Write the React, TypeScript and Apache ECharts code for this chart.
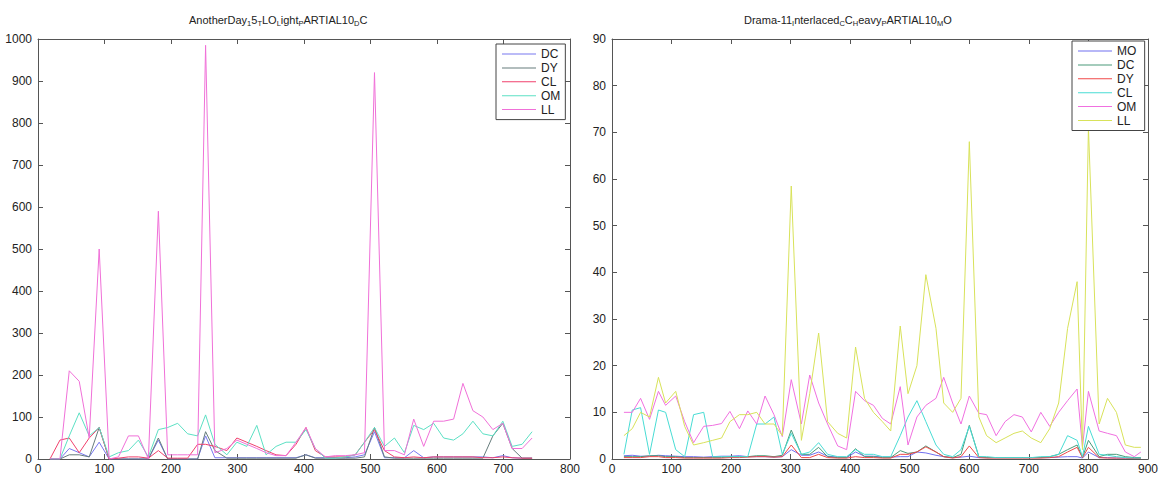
import React, { useEffect, useRef } from "react";
import * as echarts from "echarts";

// ---------- Left chart data ----------
const leftX = [18, 33, 47, 62, 77, 92, 107, 121, 136, 151, 166, 181, 195, 210, 225, 240, 252, 266, 284, 299, 314, 329, 343, 358, 373, 388, 403, 417, 432, 447, 462, 477, 491, 506, 521, 536, 551, 565, 580, 595, 610, 625, 639, 654, 669, 684, 699, 713, 728, 743];
const leftDC = [0, 0, 25, 15, 5, 40, 0, 0, 0, 0, 0, 45, 0, 0, 0, 0, 55, 3, 3, 3, 3, 3, 3, 3, 3, 3, 10, 3, 3, 3, 3, 5, 10, 65, 3, 3, 3, 20, 3, 5, 5, 5, 5, 5, 5, 3, 8, 3, 2, 2];
const leftDY = [0, 0, 10, 10, 5, 75, 0, 0, 0, 0, 0, 50, 0, 0, 0, 0, 65, 20, 2, 2, 2, 2, 2, 2, 2, 2, 10, 2, 2, 2, 2, 2, 5, 75, 5, 2, 2, 2, 2, 2, 2, 2, 2, 2, 2, 55, 85, 25, 2, 2];
const leftCL = [0, 45, 50, 15, 50, 75, 0, 2, 5, 5, 2, 20, 2, 2, 2, 35, 35, 30, 20, 50, 40, 30, 20, 10, 8, 35, 75, 20, 5, 5, 5, 10, 40, 70, 20, 5, 3, 5, 3, 5, 5, 5, 5, 5, 3, 3, 5, 3, 2, 2];
const leftOM = [0, 0, 55, 110, 55, 75, 5, 15, 20, 45, 5, 70, 75, 85, 60, 55, 105, 35, 10, 40, 30, 80, 10, 30, 40, 40, 70, 25, 2, 2, 5, 10, 40, 75, 30, 50, 15, 80, 70, 85, 50, 45, 60, 90, 60, 55, 90, 30, 35, 65];
const leftLL = [0, 0, 210, 185, 50, 500, 0, 5, 55, 55, 0, 590, 10, 10, 10, 10, 985, 15, 25, 45, 35, 25, 15, 8, 8, 40, 75, 25, 5, 8, 8, 10, 15, 920, 20, 20, 10, 95, 30, 90, 90, 95, 180, 115, 100, 70, 85, 25, 25, 50];
const leftNames = ["DC", "DY", "CL", "OM", "LL"];
const leftColors = ["#7878f0", "#667c7c", "#f0406c", "#5ce0c4", "#f070d8"];
const leftTicksX = { min: 0, max: 800, interval: 100 };
const leftTicksY = { min: 0, max: 1000, interval: 100 };

// ---------- Right chart data ----------
const rightX = [20, 34, 48, 63, 78, 90, 107, 122, 137, 154, 169, 184, 198, 214, 228, 243, 257, 272, 286, 301, 318, 332, 347, 362, 379, 394, 409, 424, 439, 454, 468, 484, 497, 512, 527, 544, 557, 572, 586, 600, 616, 629, 645, 660, 675, 689, 704, 720, 735, 750, 765, 781, 790, 800, 818, 832, 847, 862, 877, 888];
const rightMO = [0.7, 0.8, 0.6, 0.6, 0.8, 0.7, 0.6, 0.5, 0.5, 0.4, 0.5, 0.6, 0.6, 0.7, 0.5, 0.5, 0.5, 0.4, 0.5, 2, 0.8, 0.8, 1.5, 0.6, 0.4, 0.3, 1.5, 0.6, 0.6, 0.4, 0.4, 0.5, 0.5, 1.5, 1.3, 0.8, 0.5, 0.3, 0.4, 0.6, 0.3, 0.3, 0.3, 0.3, 0.3, 0.3, 0.3, 0.3, 0.3, 0.4, 0.5, 0.5, 0.2, 1.5, 0.3, 0.3, 0.2, 0.2, 0.1, 0.1];
const rightDC = [0.5, 0.5, 0.5, 0.7, 0.7, 0.5, 0.5, 0.3, 0.3, 0.3, 0.3, 0.3, 0.5, 0.5, 0.5, 0.7, 0.7, 0.5, 0.8, 6.2, 1, 1, 2.5, 0.5, 0.3, 0.3, 2.2, 0.5, 0.5, 0.3, 0.3, 1.8, 1.2, 1.5, 2.8, 1.5, 0.5, 0.3, 1, 7.2, 0.5, 0.3, 0.3, 0.3, 0.3, 0.3, 0.3, 0.3, 0.5, 1, 2, 3, 0.3, 4, 0.5, 1, 1, 0.5, 0.3, 0.3];
const rightDY = [0.3, 0.3, 0.3, 0.5, 0.5, 0.3, 0.3, 0.2, 0.2, 0.2, 0.2, 0.2, 0.3, 0.3, 0.4, 0.5, 0.5, 0.4, 0.5, 3, 0.3, 0.3, 1, 0.3, 0.2, 0.2, 0.5, 0.3, 0.3, 0.2, 0.2, 1, 1, 1.5, 2.6, 1.5, 0.5, 0.2, 0.5, 2.8, 0.3, 0.2, 0.2, 0.2, 0.2, 0.2, 0.2, 0.2, 0.3, 0.5, 1.5, 2.5, 0.3, 2.5, 0.3, 0.2, 0.2, 0.2, 0.1, 0.1];
const rightCL = [1, 10.5, 11, 1, 10.5, 10, 2, 0.5, 9.5, 10, 0.5, 0.5, 0.5, 0.5, 0.5, 7.5, 7.5, 9, 1, 5.5, 1, 1.5, 3.5, 1, 0.5, 0.5, 2, 1, 1, 0.5, 0.5, 5, 9, 12.5, 8, 3, 1, 0.5, 2, 7, 0.5, 0.5, 0.3, 0.3, 0.3, 0.3, 0.3, 0.5, 0.5, 1, 5, 4, 0.5, 7, 1, 0.8, 0.5, 0.3, 0.2, 0.2];
const rightOM = [10, 10, 13, 8.5, 14.5, 11.5, 13.5, 8, 3.5, 7, 7.2, 7.6, 10.2, 6.5, 10.3, 7.5, 13.5, 9.5, 4.8, 17, 7.5, 18, 12, 7.5, 2.8, 2, 14.5, 12.5, 11.5, 8.7, 7.5, 15.5, 3, 9, 11.5, 13, 17.5, 12, 7.5, 13.5, 9.8, 9.5, 5, 8, 9.5, 9, 5.8, 10, 7, 10, 12.5, 15, 2.5, 14.5, 6, 5.5, 5, 1.5, 0.5, 1.5];
const rightLL = [5, 6.5, 10, 9, 17.5, 12, 14.5, 7, 3, 3.5, 4, 4.5, 8, 9.5, 9.5, 10, 7.5, 7.5, 5, 58.5, 4, 14, 27, 8, 5.5, 4.5, 24, 13, 10, 8, 6, 28.5, 14, 20, 39.5, 28, 12, 10, 13, 68, 9, 5, 3.5, 4.5, 5.5, 6, 4.5, 3.5, 6.5, 12, 28, 38, 2, 71, 7.5, 13, 10, 3, 2.5, 2.5];
const rightNames = ["MO", "DC", "DY", "CL", "OM", "LL"];
const rightColors = ["#7070f0", "#4a9a7a", "#f04848", "#48dcd4", "#f070e0", "#d8e25a"];
const rightTicksX = { min: 0, max: 900, interval: 100 };
const rightTicksY = { min: 0, max: 90, interval: 10 };

const FONT = "Liberation Sans, Arial, Helvetica, sans-serif";
const AXIS_COLOR = "#555";

function pairs(xs: number[], ys: number[]) {
  return xs.map((x, i) => [x, ys[i]]);
}

function makeAxis(kind: "x" | "y", grid: number, pos: string, ticks: any, labels: boolean) {
  return {
    type: "value",
    gridIndex: grid,
    position: pos,
    min: ticks.min,
    max: ticks.max,
    interval: ticks.interval,
    axisLine: { show: true, onZero: false, lineStyle: { color: AXIS_COLOR, width: 1 } },
    axisTick: { show: true, inside: true, length: 5, lineStyle: { color: AXIS_COLOR } },
    axisLabel: {
      show: labels,
      color: "#222",
      fontSize: 12,
      fontFamily: FONT,
      margin: kind === "x" ? 4 : 6,
      formatter: (v: number) => String(v),
    },
    splitLine: { show: false },
  };
}

export default function App() {
  const ref = useRef<HTMLDivElement>(null);
  useEffect(() => {
    if (!ref.current) return;
    const chart = echarts.init(ref.current, undefined, { renderer: "svg" });
    const leftSets = [leftDC, leftDY, leftCL, leftOM, leftLL];
    const rightSets = [rightMO, rightDC, rightDY, rightCL, rightOM, rightLL];
    const series: any[] = [];
    leftSets.forEach((ys, i) => {
      series.push({
        type: "line",
        name: leftNames[i],
        xAxisIndex: 0,
        yAxisIndex: 0,
        symbol: "none",
        data: pairs(leftX, ys),
        lineStyle: { width: 1, color: leftColors[i] },
        itemStyle: { color: leftColors[i] },
      });
    });
    rightSets.forEach((ys, i) => {
      series.push({
        type: "line",
        name: rightNames[i] + " ",
        xAxisIndex: 2,
        yAxisIndex: 2,
        symbol: "none",
        data: pairs(rightX, ys),
        lineStyle: { width: 1, color: rightColors[i] },
        itemStyle: { color: rightColors[i] },
      });
    });
    const subRich = {
      s: { fontSize: 7.5, padding: [7, 0, 0, 0], color: "#222", fontFamily: FONT },
    };
    const legendCommon = {
      orient: "vertical",
      icon: "rect",
      itemWidth: 34,
      itemHeight: 1,
      itemGap: 1.9,
      borderColor: "#444",
      borderWidth: 1,
      borderRadius: 0,
      backgroundColor: "#fff",
      padding: [4, 5, 4, 6],
      textStyle: { fontSize: 12, color: "#222", fontFamily: FONT },
    };
    chart.setOption({
      animation: false,
      backgroundColor: "#fff",
      title: [
        {
          text: "AnotherDay{s|1}5{s|T}LO{s|L}ight{s|P}ARTIAL10{s|D}C",
          left: 189,
          top: 12,
          padding: 0,
          textStyle: { fontSize: 11, fontWeight: "normal", color: "#222", fontFamily: FONT, rich: subRich },
        },
        {
          text: "Drama-11{s|I}nterlaced{s|C}C{s|H}eavy{s|P}ARTIAL10{s|M}O",
          left: 744,
          top: 12,
          padding: 0,
          textStyle: { fontSize: 11, fontWeight: "normal", color: "#222", fontFamily: FONT, rich: subRich },
        },
      ],
      legend: [
        { ...legendCommon, left: 496, top: 44, data: leftNames },
        { ...legendCommon, left: 1072, top: 41, data: rightNames.map((n) => n + " ") },
      ],
      grid: [
        { left: 38, top: 39, width: 532, height: 420 },
        { left: 612, top: 39, width: 536, height: 420 },
      ],
      xAxis: [
        makeAxis("x", 0, "bottom", leftTicksX, true),
        makeAxis("x", 0, "top", leftTicksX, false),
        makeAxis("x", 1, "bottom", rightTicksX, true),
        makeAxis("x", 1, "top", rightTicksX, false),
      ],
      yAxis: [
        makeAxis("y", 0, "left", leftTicksY, true),
        makeAxis("y", 0, "right", leftTicksY, false),
        makeAxis("y", 1, "left", rightTicksY, true),
        makeAxis("y", 1, "right", rightTicksY, false),
      ],
      series,
    });
    return () => chart.dispose();
  }, []);
  return (
    <div
      ref={ref}
      style={{ position: "fixed", left: 0, top: 0, width: 1161, height: 477, background: "#fff" }}
    />
  );
}
